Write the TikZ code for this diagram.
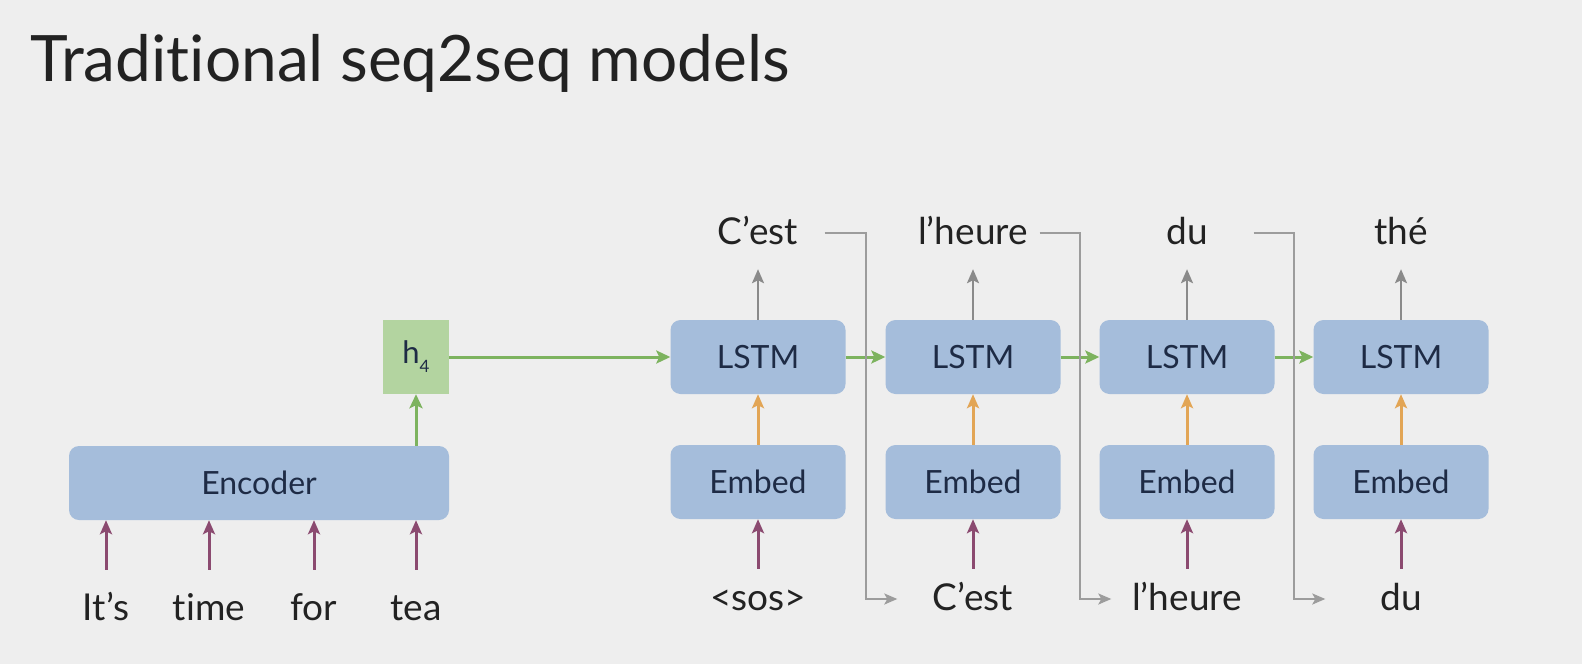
\documentclass[tikz,border=0pt]{standalone}
\usepackage{fontspec}
\setmainfont{Lato}[Ligatures=CommonOff]
\usetikzlibrary{arrows.meta,calc}

\definecolor{bgcol}{HTML}{EEEEEE}
\definecolor{boxblue}{HTML}{A5BDDB}
\definecolor{boxtext}{HTML}{1E2B45}
\definecolor{hgreen}{HTML}{B3D4A0}
\definecolor{wordcol}{HTML}{222222}
\definecolor{inpurple}{HTML}{8B4A70}
\definecolor{emborange}{HTML}{E2A555}
\definecolor{flowgreen}{HTML}{7DB35F}
\definecolor{outgray}{HTML}{8A8A8A}

\tikzset{
  block/.style={fill=boxblue, rounded corners=10pt, minimum width=175pt, minimum height=74pt,
    inner sep=0pt, text=boxtext, font=\fontsize{32}{34}\selectfont},
  hbox/.style={fill=hgreen, minimum width=66pt, minimum height=74pt, inner sep=0pt,
    text=boxtext, font=\fontsize{31}{33}\selectfont},
  word/.style={anchor=base, inner sep=0pt, text height=28pt, text depth=6pt,
    text=wordcol, font=\fontsize{37}{40}\selectfont},
  inarrow/.style={draw=inpurple, line width=3pt, -{Stealth[length=14pt,width=12pt,inset=3pt]}},
  embarrow/.style={draw=emborange, line width=3pt, -{Stealth[length=14pt,width=12pt,inset=3pt]}},
  grarrow/.style={draw=flowgreen, line width=3pt, -{Stealth[length=14pt,width=13pt,inset=3pt]}},
  outarrow/.style={draw=outgray, line width=2.2pt, -{Stealth[length=14pt,width=12pt,inset=3pt]}},
  fbarrow/.style={draw=outgray!85, line width=2pt, -{Stealth[length=13pt,width=11pt,inset=3pt]}},
}

\begin{document}
\begin{tikzpicture}[x=1pt,y=-1pt]
\fill[bgcol] (0,0) rectangle (1582,664);
\useasboundingbox (0,0) rectangle (1582,664);

\node[anchor=base west, inner sep=0pt, text=wordcol, font=\fontsize{64}{70}\selectfont] (title) at (30,81) {Traditional seq2seq models};

% encoder side
\node[block, minimum width=380pt] (enc) at (259,483) {Encoder};
\node[hbox] (h4) at (416,357) {h\raisebox{-9pt}{\fontsize{17}{17}\selectfont 4}};
\node[word] (w1) at (106,620) {It’s};
\node[word] (w2) at (209,620) {time};
\node[word] (w3) at (314,620) {for};
\node[word] (w4) at (416,620) {tea};
\draw[inarrow, shorten <=22pt] (w1) -- (w1 |- enc.south);
\draw[inarrow, shorten <=22pt] (w2) -- (w2 |- enc.south);
\draw[inarrow, shorten <=22pt] (w3) -- (w3 |- enc.south);
\draw[inarrow, shorten <=22pt] (w4) -- (w4 |- enc.south);
\draw[grarrow] (enc.north -| h4) -- (h4);

% decoder side
\node[block] (l1) at (758,357) {LSTM};
\node[block] (l2) at (973,357) {LSTM};
\node[block] (l3) at (1187,357) {LSTM};
\node[block] (l4) at (1401,357) {LSTM};
\node[block] (e1) at (758,482) {Embed};
\node[block] (e2) at (973,482) {Embed};
\node[block] (e3) at (1187,482) {Embed};
\node[block] (e4) at (1401,482) {Embed};

\node[word] (o1) at (758,244) {C’est};
\node[word] (o2) at (973,244) {l’heure};
\node[word] (o3) at (1187,244) {du};
\node[word] (o4) at (1401,244) {thé};
\node[word] (i1) at (758,610) {<sos>};
\node[word] (i2) at (973,610) {C’est};
\node[word] (i3) at (1187,610) {l’heure};
\node[word] (i4) at (1401,610) {du};

\draw[grarrow] (h4) -- (l1);
\draw[grarrow] (l1) -- (l2);
\draw[grarrow] (l2) -- (l3);
\draw[grarrow] (l3) -- (l4);

\draw[embarrow] (e1) -- (l1);
\draw[embarrow] (e2) -- (l2);
\draw[embarrow] (e3) -- (l3);
\draw[embarrow] (e4) -- (l4);

\draw[outarrow, shorten >=19pt] (l1) -- (o1);
\draw[outarrow, shorten >=19pt] (l2) -- (o2);
\draw[outarrow, shorten >=19pt] (l3) -- (o3);
\draw[outarrow, shorten >=19pt] (l4) -- (o4);

\draw[inarrow, shorten <=13pt] (i1) -- (e1);
\draw[inarrow, shorten <=13pt] (i2) -- (e2);
\draw[inarrow, shorten <=13pt] (i3) -- (e3);
\draw[inarrow, shorten <=13pt] (i4) -- (e4);

% feed previous output back in
\coordinate (m1) at ($(l1.east)!0.5!(l2.west)$);
\coordinate (m2) at ($(l2.east)!0.5!(l3.west)$);
\coordinate (m3) at ($(l3.east)!0.5!(l4.west)$);
\draw[fbarrow] ($(l1.east |- o1)+(-21,0)$) -| (m1) |- ($(l2.west |- i2)+(12,0)$);
\draw[fbarrow] ($(l2.east |- o2)+(-21,0)$) -| (m2) |- ($(l3.west |- i3)+(12,0)$);
\draw[fbarrow] ($(l3.east |- o3)+(-21,0)$) -| (m3) |- ($(l4.west |- i4)+(12,0)$);

\end{tikzpicture}
\end{document}
